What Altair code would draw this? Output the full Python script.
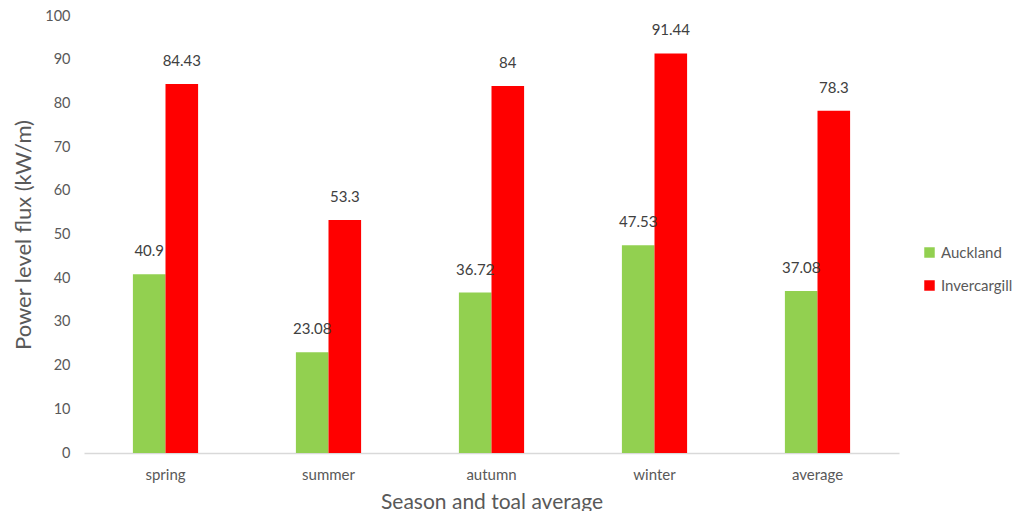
import altair as alt
import pandas as pd

seasons = ["spring", "summer", "autumn", "winter", "average"]
auckland = [40.9, 23.08, 36.72, 47.53, 37.08]
invercargill = [84.43, 53.3, 84, 91.44, 78.3]
series = ["Auckland", "Invercargill"]
colors = ["#92D050", "#FF0000"]

rows = []
for i, s in enumerate(seasons):
    rows.append({"season": s, "city": series[0], "value": auckland[i], "label": f"{auckland[i]:g}"})
    rows.append({"season": s, "city": series[1], "value": invercargill[i], "label": f"{invercargill[i]:g}"})
df = pd.DataFrame(rows)

FONT = "Lato"

x = alt.X("season:N", sort=seasons, title="Season and toal average",
          scale=alt.Scale(paddingInner=0.6, paddingOuter=0.3),
          axis=alt.Axis(labelAngle=0, labelFontSize=15, labelColor="#595959", labelPadding=14,
                        ticks=False, domainColor="#D9D9D9", domainWidth=1.5,
                        titleFontSize=21, titleFontWeight="normal", titleColor="#595959",
                        titlePadding=9, labelFont=FONT, titleFont=FONT))
xo = alt.XOffset("city:N", sort=series)
y = alt.Y("value:Q", title="Power level flux (kW/m)",
          scale=alt.Scale(domain=[0, 100], nice=False),
          axis=alt.Axis(values=list(range(0, 101, 10)), grid=False, domain=False, ticks=False,
                        labelFontSize=14.5, labelColor="#595959", labelPadding=14,
                        titleFontSize=22, titleFontWeight="normal", titleColor="#595959",
                        titlePadding=9, labelFont=FONT, titleFont=FONT))
color = alt.Color("city:N", sort=series,
                  scale=alt.Scale(domain=series, range=colors),
                  legend=alt.Legend(title=None, orient="none", legendX=838, legendY=229,
                                    symbolType="square", symbolSize=110, symbolStrokeWidth=0,
                                    labelFontSize=15, labelOffset=4, labelColor="#595959", labelFont=FONT,
                                    rowPadding=17, symbolOpacity=1))

bars = alt.Chart(df).mark_bar(opacity=1).encode(x=x, xOffset=xo, y=y, color=color)
labels = alt.Chart(df).mark_text(baseline="bottom", dy=-15, fontSize=15, color="#404040", font=FONT).encode(
    x=x, xOffset=xo, y=y, text="label:N")

chart = (bars + labels).properties(
    width=815, height=437,
    autosize=alt.AutoSizeParams(type="none"),
    padding={"left": 76, "top": 8, "right": 116, "bottom": 58},
).configure_view(stroke=None)

chart.save("out.html", embed_options={"renderer": "svg", "actions": False})
